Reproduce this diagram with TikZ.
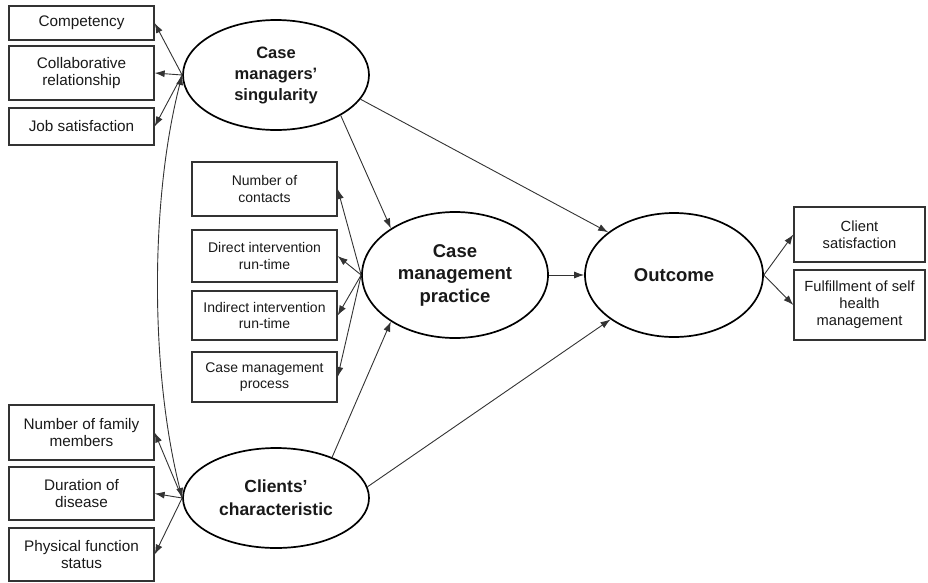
\documentclass[tikz,border=0pt]{standalone}
\usepackage{fontspec}
\setmainfont{Liberation Sans}
\usetikzlibrary{shapes.geometric,arrows.meta}

\begin{document}
\begin{tikzpicture}[x=1pt, y=-1pt,
    box/.style={draw=black!80, line width=1.3pt, align=center, inner sep=0pt, text=black!90},
    lbox/.style={box, minimum width=145pt, font=\fontsize{15.3}{17.5}\selectfont},
    mbox/.style={box, minimum width=145pt, font=\fontsize{14}{16.5}\selectfont},
    rbox/.style={box, minimum width=131pt, font=\fontsize{14.7}{17}\selectfont},
    latent/.style={ellipse, draw=black, line width=1.7pt, align=center, inner sep=0pt, text=black!90},
    link/.style={draw=black!80, line width=0.9pt, -{Latex[length=10pt,width=7pt]}},
    corr/.style={link, {Latex[length=10pt,width=7pt]}-{Latex[length=10pt,width=7pt]}}]
    \useasboundingbox (0,0) rectangle (928,582);

    % latent variables
    \node[latent, minimum width=186pt, minimum height=110pt, font=\fontsize{16.5}{21}\selectfont\bfseries] (sing) at (276,75) {Case\\managers'\\singularity};
    \node[latent, minimum width=186pt, minimum height=126pt, font=\fontsize{18.5}{22.5}\selectfont\bfseries] (prac) at (455,275) {Case\\management\\practice};
    \node[latent, minimum width=178pt, minimum height=124pt, font=\fontsize{18.5}{22}\selectfont\bfseries] (outc) at (674,275) {Outcome};
    \node[latent, minimum width=186pt, minimum height=100pt, font=\fontsize{17.5}{23}\selectfont\bfseries] (clch) at (276,498) {Clients'\\characteristic};

    % indicators
    \node[lbox, minimum height=34pt] (comp) at (81.5,23) {Competency};
    \node[lbox, minimum height=54pt] (collab) at (81.5,73) {Collaborative\\relationship};
    \node[lbox, minimum height=37pt] (jobsat) at (81.5,126.5) {Job satisfaction};

    \node[mbox, minimum height=54pt] (contacts) at (264.5,189) {Number of\\contacts};
    \node[mbox, minimum height=52pt] (direct) at (264.5,256) {Direct intervention\\run-time};
    \node[mbox, minimum height=49pt] (indirect) at (264.5,315.5) {Indirect intervention\\run-time};
    \node[mbox, minimum height=50pt] (process) at (264.5,377) {Case management\\process};

    \node[lbox, minimum height=55pt] (family) at (81.5,432.5) {Number of family\\members};
    \node[lbox, minimum height=53pt] (duration) at (81.5,493.5) {Duration of\\disease};
    \node[lbox, minimum height=53pt] (physical) at (81.5,554.5) {Physical function\\status};

    \node[rbox, minimum height=55pt] (clsat) at (859.5,234.5) {Client\\satisfaction};
    \node[rbox, minimum height=70pt] (selfm) at (859.5,305) {Fulfillment of self\\health\\management};

    % measurement arrows
    \draw[link] (sing.west) -- (comp.east);
    \draw[link] (sing.west) -- (collab.east);
    \draw[link] (sing.west) -- (jobsat.east);
    \draw[link] (prac.west) -- (contacts.east);
    \draw[link] (prac.west) -- (direct.east);
    \draw[link] (prac.west) -- (indirect.east);
    \draw[link] (prac.west) -- (process.east);
    \draw[link] (clch.west) -- (family.east);
    \draw[link] (clch.west) -- (duration.east);
    \draw[link] (clch.west) -- (physical.east);
    \draw[link] (outc.east) -- (clsat.west);
    \draw[link] (outc.east) -- (selfm.west);

    % structural paths
    \draw[corr] (sing.west) .. controls (150,200) and (150,370) .. (clch.west);
    \draw[link] (sing.-32) -- (prac.144);
    \draw[link] (clch.36) -- (prac.216);
    \draw[link] (sing.-16) -- (outc.147);
    \draw[link] (clch.7) -- (outc.215);
    \draw[link] (prac.east) -- (outc.west);
\end{tikzpicture}
\end{document}
